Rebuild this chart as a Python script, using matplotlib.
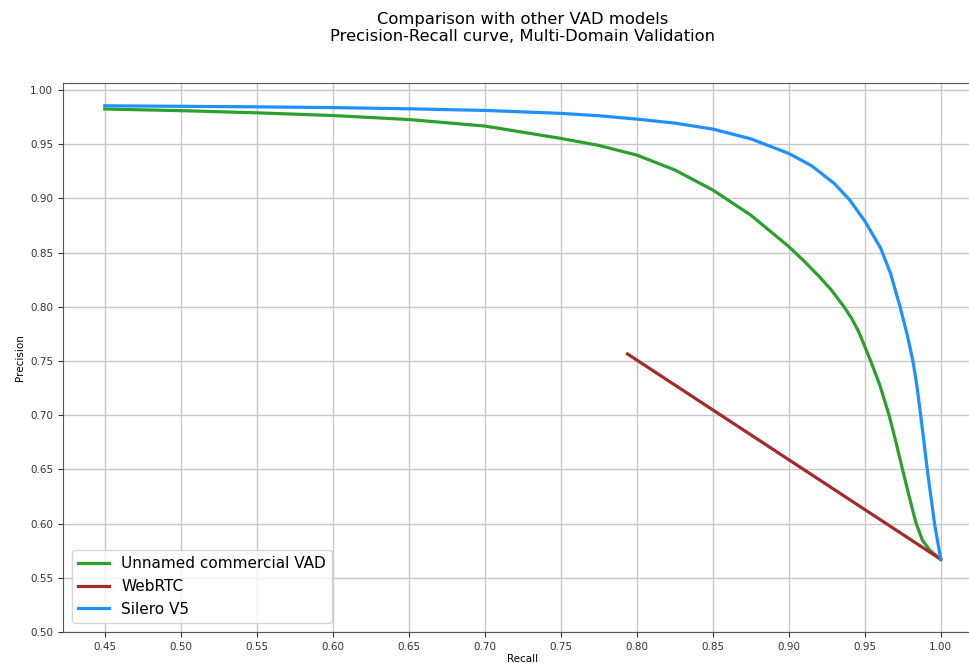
import matplotlib
matplotlib.use("Agg")
import matplotlib.pyplot as plt

# Unnamed commercial VAD
commercial_recall = [0.45, 0.50, 0.55, 0.60, 0.65, 0.70, 0.75, 0.775, 0.80, 0.825,
                     0.85, 0.875, 0.90, 0.91, 0.92, 0.928, 0.9364, 0.9415, 0.946, 0.950,
                     0.9539, 0.960, 0.966, 0.9704, 0.9747, 0.9791, 0.9836, 0.9879,
                     0.9928, 1.0]
commercial_precision = [0.9825, 0.981, 0.979, 0.9765, 0.9728, 0.9668, 0.9554, 0.9489, 0.940, 0.9263,
                        0.9078, 0.8846, 0.8556, 0.8423, 0.828, 0.8155, 0.7999, 0.789, 0.777, 0.7635,
                        0.750, 0.7274, 0.700, 0.6758, 0.6508, 0.6257, 0.601, 0.5847,
                        0.5754, 0.567]

# WebRTC
webrtc_recall = [0.7939, 1.0]
webrtc_precision = [0.7565, 0.567]

# Silero V5
silero_recall = [0.45, 0.50, 0.55, 0.60, 0.65, 0.70, 0.75, 0.775, 0.80, 0.825, 0.85,
                 0.875, 0.90, 0.915, 0.93, 0.94, 0.95, 0.9605, 0.967, 0.9732, 0.978,
                 0.9818, 0.9843, 0.9868, 0.9912, 0.996, 1.0]
silero_precision = [0.9855, 0.985, 0.9845, 0.9838, 0.9827, 0.9812, 0.9785, 0.9763, 0.9732, 0.9695, 0.964,
                    0.955, 0.9415, 0.9302, 0.9137, 0.8987, 0.8792, 0.854, 0.8306, 0.8002, 0.7738,
                    0.7491, 0.727, 0.700, 0.6489, 0.599, 0.567]

fig = plt.figure(figsize=(9.69, 6.63), dpi=100)
ax = fig.add_axes([0.065, 0.0468, 0.949, 0.828])

line_kw = dict(lw=2.3, solid_joinstyle="round")
ax.plot(commercial_recall, commercial_precision, color="#2ca02c", label="Unnamed commercial VAD", **line_kw)
ax.plot(webrtc_recall, webrtc_precision, color="#a52a2a", label="WebRTC", **line_kw)
ax.plot(silero_recall, silero_precision, color="#1e90ff", label="Silero V5", **line_kw)

ax.set_xlim(0.4225, 1.0275)
ax.set_ylim(0.5, 1.0065)
ax.set_xticks([0.45 + 0.05 * i for i in range(12)])
ax.set_yticks([0.50 + 0.05 * i for i in range(11)])
ax.tick_params(labelsize=7.5, colors="#333333")
ax.grid(True, color="#c8c8c8", lw=1)
for s in ax.spines.values():
    s.set_color("#555555")

ax.set_xlabel("Recall", fontsize=7.5, labelpad=2)
ax.set_ylabel("Precision", fontsize=7.5, labelpad=4)
ax.set_title("Comparison with other VAD models\nPrecision-Recall curve, Multi-Domain Validation",
             fontsize=11.8, pad=30)
ax.legend(loc="lower left", fontsize=11, handlelength=2, borderaxespad=0.6)

fig.savefig("out.png", dpi=100)
